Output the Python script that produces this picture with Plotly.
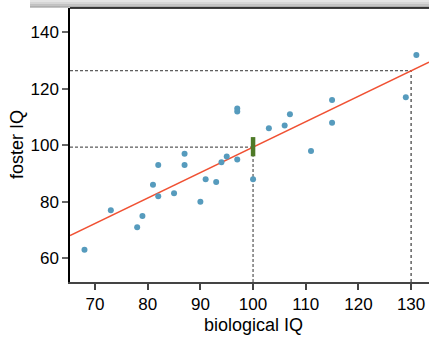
import numpy as np
import plotly.graph_objects as go

biological_iq = [82, 90, 91, 115, 115, 129, 131, 78, 79, 82, 97, 100, 107, 68,
                 73, 81, 85, 87, 87, 93, 94, 95, 97, 97, 103, 106, 111]
foster_iq = [82, 80, 88, 108, 116, 117, 132, 71, 75, 93, 95, 88, 111, 63,
             77, 86, 83, 93, 97, 87, 94, 96, 112, 113, 106, 107, 98]

highlight_x = [100, 130]
ci_at_100 = [96.1, 102.9]

x_tick_vals = [70, 80, 90, 100, 110, 120, 130]
y_tick_vals = [60, 80, 100, 120, 140]
x_range = [65.25, 133.4]
y_range = [51.6, 148.6]

slope, intercept = np.polyfit(biological_iq, foster_iq, 1)
fit = lambda x: intercept + slope * x

BLUE = "#569BBD"
RED = "#F05133"
GREEN = "#4E7A27"

fig = go.Figure()

# dashed guide lines
x1, x2 = highlight_x
fig.add_trace(go.Scatter(x=[x_range[0], x1], y=[fit(x1), fit(x1)], mode="lines",
                         line=dict(color="#333333", width=1, dash="3px,2px"),
                         hoverinfo="skip"))
fig.add_trace(go.Scatter(x=[x1, x1], y=[y_range[0], ci_at_100[0]], mode="lines",
                         line=dict(color="#777777", width=1.5, dash="3px,2px"),
                         hoverinfo="skip"))
fig.add_trace(go.Scatter(x=[x_range[0], x2], y=[fit(x2), fit(x2)], mode="lines",
                         line=dict(color="#333333", width=1, dash="3px,2px"),
                         hoverinfo="skip"))
fig.add_trace(go.Scatter(x=[x2, x2], y=[y_range[0], fit(x2)], mode="lines",
                         line=dict(color="#111111", width=1, dash="3px,3px"),
                         hoverinfo="skip"))

# regression line
fig.add_trace(go.Scatter(x=x_range, y=[fit(x_range[0]), fit(x_range[1])], mode="lines",
                         line=dict(color=RED, width=1.5), hoverinfo="skip"))

# points
fig.add_trace(go.Scatter(x=biological_iq, y=foster_iq, mode="markers",
                         marker=dict(color=BLUE, size=6, line=dict(width=0))))

# confidence bar
fig.add_trace(go.Scatter(x=[x1, x1], y=ci_at_100, mode="lines",
                         line=dict(color=GREEN, width=4.5), hoverinfo="skip"))

# top shadow (decoration)
H = 274.0
W = 359.0
shadow = [(0, 2, "#e4e4e4"), (2, 4, "#d6d6d6"), (4, 5.5, "#c2c2c2"),
          (5.5, 6.5, "#a8a8a8"), (6.5, 7.5, "#8c8c8c")]
shapes = []
for top, bot, col in shadow:
    shapes.append(dict(type="rect", xref="paper", yref="paper",
                       x0=(30 - 70) / W, x1=1.1,
                       y0=1 + (8 - bot) / H, y1=1 + (8 - top) / H,
                       fillcolor=col, line=dict(width=0), layer="below"))
shapes.append(dict(type="line", xref="paper", yref="paper", x0=0, x1=1.1, y0=1, y1=1,
                   line=dict(color="black", width=1.5)))

fig.update_layout(
    width=429, height=341,
    margin=dict(l=70, r=0, t=8, b=59),
    paper_bgcolor="white", plot_bgcolor="white",
    showlegend=False,
    font=dict(family="Liberation Sans, Arial, sans-serif", color="black", size=17),
    shapes=shapes,
    annotations=[
        dict(text="biological IQ", xref="paper", yref="paper",
             x=(253 - 70) / W, y=(282 - 325) / H, showarrow=False,
             font=dict(size=18), xanchor="center", yanchor="middle"),
        dict(text="foster IQ", xref="paper", yref="paper",
             x=(17 - 70) / W, y=(282 - 145) / H, showarrow=False, textangle=-90,
             font=dict(size=18), xanchor="center", yanchor="middle"),
    ],
)
fig.update_xaxes(range=x_range, tickvals=x_tick_vals, showgrid=False, zeroline=False,
                 showline=True, linecolor="#444444", linewidth=1.5,
                 ticks="outside", ticklen=6, tickcolor="#444444", tickwidth=1.5,
                 tickfont=dict(size=17))
fig.update_yaxes(range=y_range, tickvals=y_tick_vals, showgrid=False, zeroline=False,
                 showline=True, linecolor="black", linewidth=1.5,
                 ticks="outside", ticklen=6, tickcolor="#666666", tickwidth=1.5,
                 tickfont=dict(size=17))

fig.write_html("out.html")
